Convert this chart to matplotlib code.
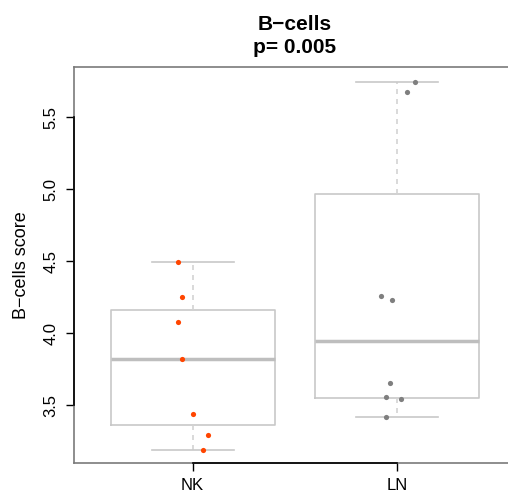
import numpy as np
import matplotlib.pyplot as plt

plt.rcParams['font.family'] = ['Liberation Sans', 'DejaVu Sans']

groups = ["NK", "LN"]
nk_scores = [4.497, 4.252, 4.078, 3.824, 3.440, 3.294, 3.192]
nk_jitter = [-0.073, -0.053, -0.073, -0.053, 0.0, 0.077, 0.049]
ln_scores = [5.745, 5.676, 4.259, 4.233, 3.657, 3.558, 3.544, 3.421]
ln_jitter = [0.085, 0.049, -0.078, -0.026, -0.036, -0.057, 0.016, -0.057]
point_colors = ["#ff4500", "#7f7f7f"]
title = "B\u2212cells\np= 0.005"
ylabel = "B\u2212cells score"


def fivenum(v):
    # R style hinges
    v = np.sort(np.asarray(v))
    n = len(v)
    n4 = np.floor((n + 3) / 2) / 2
    d = np.array([1, n4, (n + 1) / 2, n + 1 - n4, n]) - 1
    return 0.5 * (v[np.floor(d).astype(int)] + v[np.ceil(d).astype(int)])


stats = []
for name, vals in zip(groups, [nk_scores, ln_scores]):
    lo, q1, med, q3, hi = fivenum(vals)
    stats.append(dict(label=name, whislo=lo, q1=q1, med=med, q3=q3, whishi=hi, fliers=[]))

fig = plt.figure(figsize=(5.08, 4.93), dpi=100)
ax = fig.add_axes([74 / 508, 30 / 493, 442 / 508, 396 / 493])

box_col = "#c8c8c8"
ax.bxp(stats, positions=[1, 2], widths=0.8,
       boxprops=dict(color=box_col, lw=1.2),
       medianprops=dict(color="#bebebe", lw=2.5),
       whiskerprops=dict(color="#d3d3d3", lw=1.2, ls=(0, (3, 3))),
       capprops=dict(color=box_col, lw=1.2),
       capwidths=0.4)

for i, (vals, jit) in enumerate([(nk_scores, nk_jitter), (ln_scores, ln_jitter)]):
    ax.scatter(np.array(jit) + i + 1, vals, s=14, color=point_colors[i], zorder=3, lw=0)

ax.set_xlim(0.42, 2.58)
ax.set_ylim(3.1, 5.85)
ax.set_yticks([3.5, 4.0, 4.5, 5.0, 5.5])
ax.set_yticklabels(["3.5", "4.0", "4.5", "5.0", "5.5"], rotation=90, va="center")
ax.set_xticks([1, 2])
ax.set_xticklabels(groups)
ax.tick_params(length=6, width=1, labelsize=12)
ax.tick_params(axis="y", pad=5)
ax.tick_params(axis="x", pad=5)

for s in ax.spines.values():
    s.set_color("#7a7a7a")
    s.set_linewidth(1.2)
ax.plot([0, 0], [3.5, 5.5], color="black", lw=1.2, transform=ax.get_yaxis_transform(), clip_on=False, zorder=5)
ax.plot([1, 2], [0, 0], color="black", lw=1.2, transform=ax.get_xaxis_transform(), clip_on=False, zorder=5)

ax.set_ylabel(ylabel, fontsize=13, labelpad=10)
ax.set_title(title, fontsize=15, fontweight="bold", linespacing=1.3, pad=10)

fig.savefig("out.png", dpi=100)
